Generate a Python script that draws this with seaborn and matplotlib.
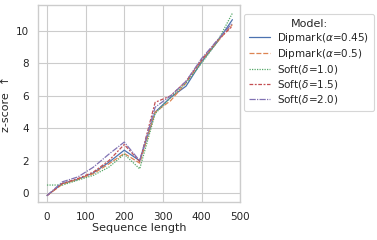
import matplotlib
matplotlib.use("Agg")
import matplotlib.pyplot as plt
import seaborn as sns
import pandas as pd

lengths = [0, 40, 80, 120, 160, 200, 240, 280, 320, 360, 400, 440, 480]
models = ["Dipmark($\\alpha$=0.45)", "Dipmark($\\alpha$=0.5)", "Soft($\\delta$=1.0)",
          "Soft($\\delta$=1.5)", "Soft($\\delta$=2.0)"]
dip045 = [-0.15, 0.6, 0.85, 1.25, 1.9, 2.65, 2.0, 5.0, 5.9, 6.6, 8.1, 9.3, 10.7]
dip05 = [-0.15, 0.55, 0.85, 1.2, 1.8, 2.45, 1.85, 5.0, 5.7, 6.8, 8.2, 9.3, 10.4]
soft10 = [0.5, 0.5, 0.8, 1.1, 1.6, 2.4, 1.5, 4.9, 5.9, 6.8, 8.0, 9.3, 11.1]
soft15 = [-0.15, 0.6, 0.9, 1.3, 2.0, 3.0, 1.95, 5.6, 6.0, 6.9, 8.2, 9.4, 10.3]
soft20 = [-0.15, 0.7, 1.0, 1.6, 2.4, 3.15, 2.0, 5.3, 6.0, 6.9, 8.3, 9.4, 10.5]

rows = []
for m, vals in zip(models, [dip045, dip05, soft10, soft15, soft20]):
    for x, v in zip(lengths, vals):
        rows.append({"Sequence length": x, "z-score": v, "Model:": m})
df = pd.DataFrame(rows)

sns.set_theme(style="whitegrid", context="paper")
plt.rcParams.update({"xtick.labelsize": 7.5, "ytick.labelsize": 7.5, "axes.labelsize": 8,
                     "legend.fontsize": 7.5, "legend.title_fontsize": 8})
fig, ax = plt.subplots(figsize=(3.77, 2.4), dpi=100)
sns.lineplot(data=df, x="Sequence length", y="z-score", hue="Model:", style="Model:",
             ax=ax, linewidth=0.9)
ax.set_ylabel("z-score  ↑", labelpad=3)
ax.set_xlabel("Sequence length", labelpad=1)
ax.set_xticks([0, 100, 200, 300, 400, 500])
ax.set_xlim(-23, 500)
ax.set_ylim(-0.55, 11.6)
ax.tick_params(pad=2)
leg = ax.legend(title="Model:", loc="upper left", bbox_to_anchor=(1.005, 0.97), frameon=True,
                handlelength=2.0, handletextpad=0.7, labelspacing=0.2, borderpad=0.45,
                borderaxespad=0.3)
fig.subplots_adjust(left=0.101, right=0.637, top=0.979, bottom=0.158)
fig.savefig("out.png", dpi=100)
